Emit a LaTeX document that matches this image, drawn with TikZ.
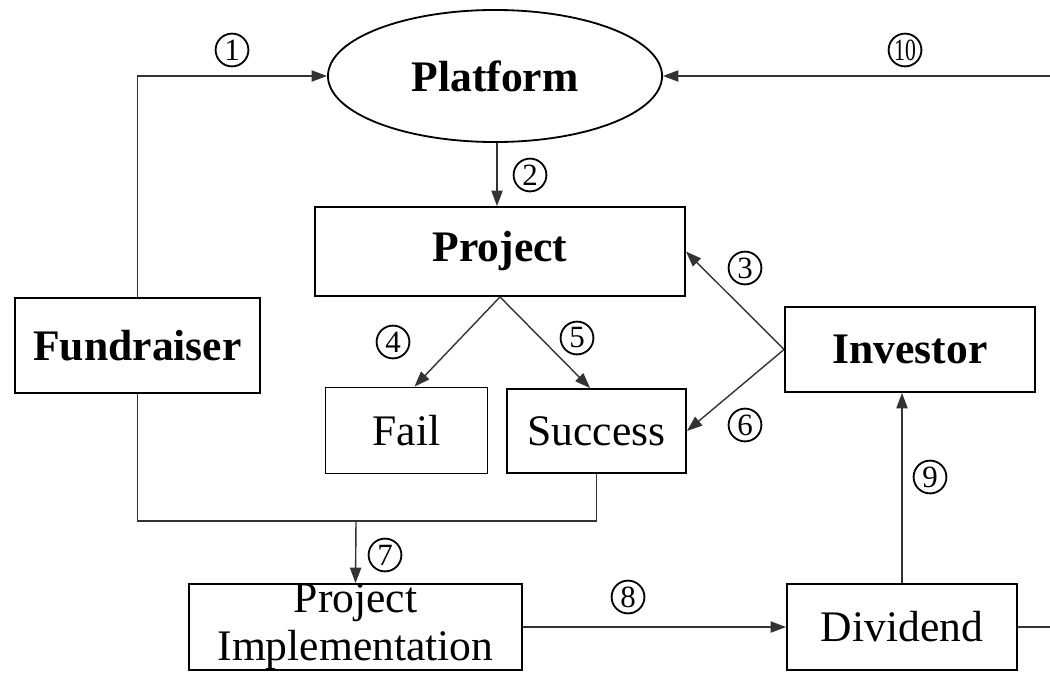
\documentclass[tikz,border=0pt]{standalone}
\usepackage{fontspec}
\setmainfont{Liberation Serif}
\usetikzlibrary{arrows.meta,shapes.geometric}
\begin{document}
\begin{tikzpicture}[x=0.025cm,y=-0.025cm,
  box/.style={draw,line width=1.3pt,rectangle,inner sep=0pt,align=center,font=\fontsize{31}{34}\selectfont},
  bbox/.style={box,font=\fontsize{31}{34}\selectfont\bfseries},
  conn/.style={line width=1pt,draw=black!80},
  arr/.style={conn,-{Triangle[length=11pt,width=8pt]}},
  num/.style={circle,draw,line width=1.3pt,minimum size=0.82cm,inner sep=0pt,font=\fontsize{22}{24}\selectfont}]
\useasboundingbox (0,0) rectangle (1050,672);
\node[ellipse,draw,line width=1.3pt,minimum width=8.35cm,minimum height=3.3cm,inner sep=0pt,font=\fontsize{31}{34}\selectfont\bfseries] (platform) at (495,76) {Platform};
\node[bbox,minimum width=9.25cm,minimum height=2.225cm] (project) at (500,251.5) {Project};
\node[bbox,minimum width=6.125cm,minimum height=2.375cm] (fund) at (137.5,345.5) {Fundraiser};
\node[bbox,minimum width=6.25cm,minimum height=2.125cm] (inv) at (910,349.5) {Investor};
\node[box,minimum width=4.05cm,minimum height=2.15cm] (fail) at (406.5,430.5) {Fail};
\node[box,minimum width=4.475cm,minimum height=2.1cm] (succ) at (596.5,431) {Success};
\node[box,minimum width=8.325cm,minimum height=2.15cm,font=\fontsize{31}{34}\selectfont] (impl) at (355.5,627) {Project\\[0pt]Implementation};
\node[box,minimum width=5.75cm,minimum height=2.15cm] (div) at (902,627) {Dividend};
\coordinate (j) at (356,521);
\coordinate (r1) at (1060,627);
% connectors
\draw[arr] (fund.north) |- (platform.west);
\draw[arr] ([xshift=0.05cm]platform.south) -- ([xshift=0.05cm]platform.south |- project.north);
\draw[arr] (project.south) -- ([xshift=0.2cm]fail.north);
\draw[arr] (project.south) -- ([xshift=-0.16cm]succ.north);
\draw[arr] (inv.west) -- (project.east);
\draw[arr] (inv.west) -- (succ.east);
\draw[conn] (succ.south) |- (j);
\draw[conn] (fund.south) |- (j);
\draw[arr] (j) -- (impl.north);
\draw[arr] (impl.east) -- (div.west);
\draw[arr] (div.north) -- (div.north |- inv.south);
\draw[arr] (div.east) -- (r1) |- (platform.east);
% labels
\node[num] (n1) at (232,50) {1};
\node[num] (n2) at (530,175) {2};
\node[num] (n3) at (745,268) {3};
\node[num] (n4) at (393,342) {4};
\node[num] (n5) at (577,338) {5};
\node[num] (n6) at (745,425) {6};
\node[num] (n7) at (385,555) {7};
\node[num] (n8) at (628,597) {8};
\node[num] (n9) at (930,477) {9};
\node[num] (n10) at (905,50) {\scalebox{0.7}[1]{10}};
\end{tikzpicture}
\end{document}
